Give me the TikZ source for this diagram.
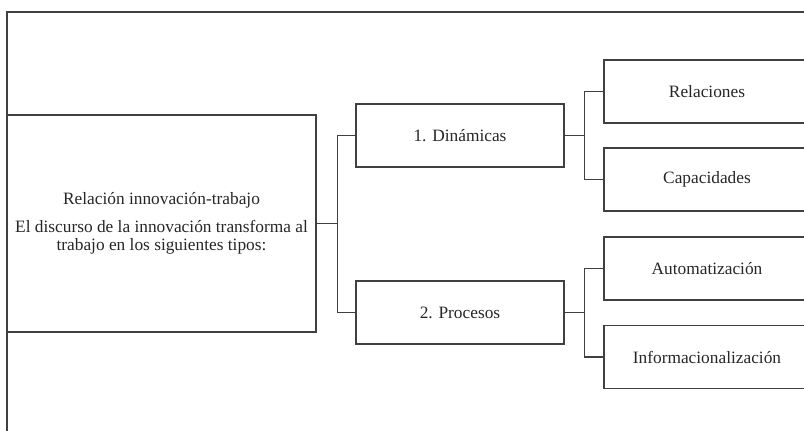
\documentclass[tikz,border=0pt]{standalone}
\usepackage{fontspec}
\setmainfont{Liberation Serif}
\usetikzlibrary{positioning}

\tikzset{
  frame/.style={draw=black!75, line width=1pt},
  box/.style={draw=black!75, line width=1pt, text=black!85, align=center, inner sep=2pt, font=\fontsize{13}{13.5}\selectfont},
  midbox/.style={box, minimum width=156pt, minimum height=47.25pt},
  leafbox/.style={box, minimum width=154.5pt, minimum height=47.25pt},
  link/.style={draw=black!75, line width=1pt},
}

\begin{document}
\begin{tikzpicture}[x=0.75pt, y=-0.75pt]
\useasboundingbox (0,0) rectangle (804,431);
\clip (0,0) rectangle (804,431);
% outer frame
\draw[frame] (7,12) rectangle (830,450);
% root box
\node[box, minimum width=231.75pt, minimum height=162.75pt] (rel) at (161.5,223.5)
  {Relación innovación-trabajo\\[8pt]
   El discurso de la innovación transforma al\\
   trabajo en los siguientes tipos:};
% second level
\node[midbox] (din)  at (460,135.5) {1. Dinámicas};
\node[midbox] (proc) at (460,312.5) {2. Procesos};
% leaves
\node[leafbox] (relac) at (707,91.5)  {Relaciones};
\node[leafbox] (capac) at (707,179.5) {Capacidades};
\node[leafbox] (auto)  at (707,268.5) {Automatización};
\node[leafbox] (info)  at (707,357)   {Informacionalización};
% connectors
\draw[link] (rel.east) -- ++(21,0) coordinate (j1) |- (din.west);
\draw[link] (j1) |- (proc.west);
\draw[link] (din.east) -- ++(20,0) coordinate (j2) |- (relac.west);
\draw[link] (j2) |- (capac.west);
\draw[link] (proc.east) -- ++(20,0) coordinate (j3) |- (auto.west);
\draw[link] (j3) |- (info.west);
\end{tikzpicture}
\end{document}
